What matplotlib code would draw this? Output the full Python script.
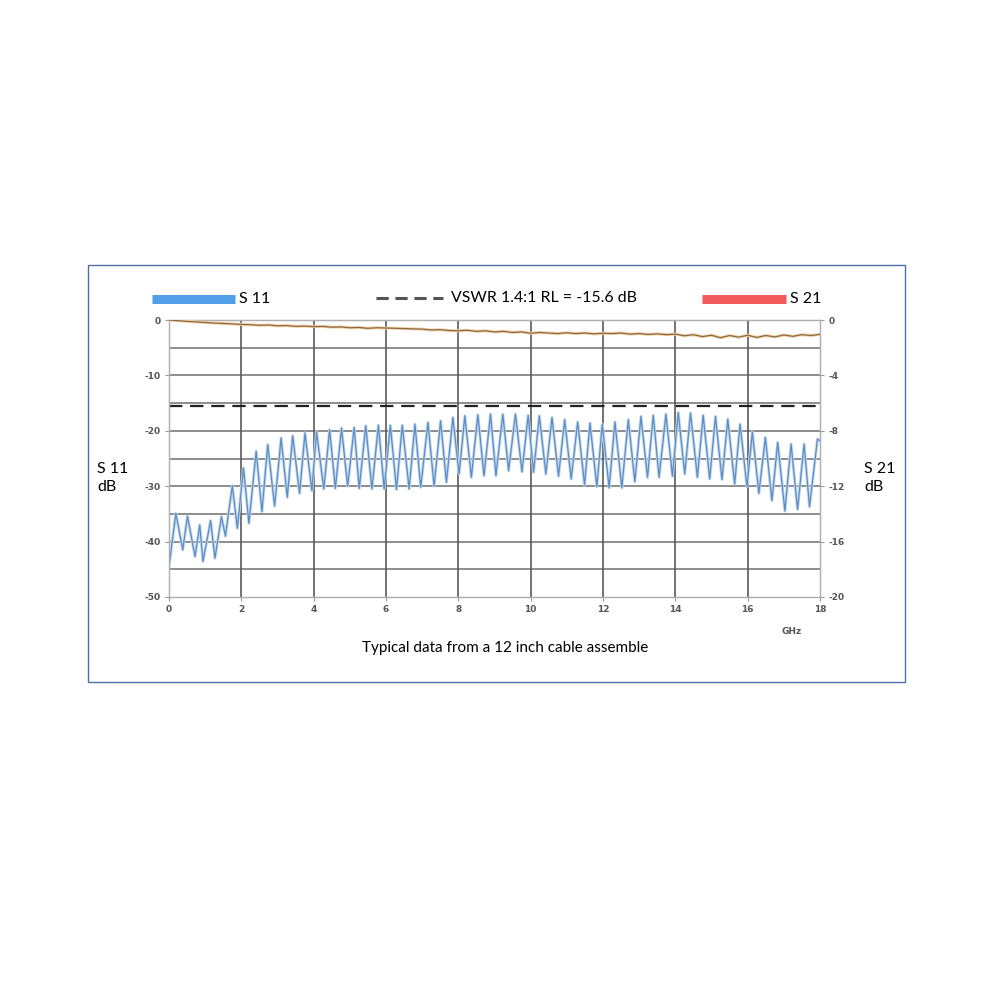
import matplotlib.pyplot as plt
import matplotlib.patches as patches
from matplotlib.lines import Line2D

# S11 trace (peaks and dips), GHz / dB
s11_freq = [0.00, 0.19, 0.38, 0.51, 0.72, 0.85, 0.94, 1.15, 1.27, 1.45, 1.56, 1.75, 1.89,
            2.06, 2.21, 2.41, 2.57, 2.73, 2.92, 3.10, 3.27, 3.42, 3.61, 3.76, 3.95, 4.08,
            4.28, 4.44, 4.60, 4.77, 4.94, 5.12, 5.26, 5.44, 5.61, 5.79, 5.95, 6.12, 6.29,
            6.45, 6.64, 6.80, 6.96, 7.16, 7.33, 7.51, 7.67, 7.85, 8.02, 8.18, 8.36, 8.54,
            8.71, 8.89, 9.04, 9.23, 9.39, 9.58, 9.76, 9.93, 10.08, 10.24, 10.42, 10.59,
            10.77, 10.94, 11.12, 11.30, 11.49, 11.64, 11.83, 11.98, 12.17, 12.33, 12.52,
            12.70, 12.88, 13.05, 13.23, 13.39, 13.55, 13.74, 13.92, 14.08, 14.26, 14.42,
            14.61, 14.77, 14.95, 15.11, 15.29, 15.45, 15.64, 15.79, 15.98, 16.13, 16.31,
            16.49, 16.67, 16.83, 17.03, 17.20, 17.38, 17.56, 17.71, 17.93, 18.00]
s11_db = [-44.5, -34.9, -41.5, -35.4, -42.7, -37.0, -43.6, -36.2, -43.0, -35.5, -39.0, -29.9, -37.6,
          -26.7, -36.7, -23.7, -34.6, -22.5, -33.6, -21.3, -32.0, -20.9, -31.3, -20.4, -30.8, -20.2,
          -30.5, -19.8, -30.4, -19.5, -30.0, -19.4, -30.4, -19.1, -30.5, -19.0, -30.5, -19.0, -30.6,
          -19.0, -30.5, -18.8, -30.2, -18.5, -30.0, -18.2, -29.3, -17.6, -27.8, -17.3, -28.4, -17.1,
          -28.1, -17.0, -28.1, -17.0, -27.2, -17.0, -27.4, -17.2, -27.5, -17.3, -27.8, -17.6,
          -28.2, -18.0, -28.7, -18.4, -29.8, -18.6, -30.1, -18.8, -30.3, -18.4, -30.3,
          -18.0, -29.2, -17.4, -28.4, -17.2, -28.4, -17.0, -28.2, -16.7, -27.8, -16.8,
          -28.4, -17.2, -28.7, -17.4, -28.8, -17.9, -29.6, -18.8, -30.1, -20.2, -31.3,
          -21.2, -32.6, -22.1, -34.5, -22.4, -34.2, -22.4, -33.7, -21.5, -21.8]

# S21 trace (right axis), GHz / dB
s21_freq = [0.0, 0.25, 0.5, 0.75, 1.0, 1.25, 1.5, 1.75, 2.0, 2.25, 2.5, 2.75, 3.0, 3.25, 3.5, 3.75,
            4.0, 4.25, 4.5, 4.75, 5.0, 5.25, 5.5, 5.75, 6.0, 6.25, 6.5, 6.75, 7.0, 7.25, 7.5, 7.75,
            8.0, 8.25, 8.5, 8.75, 9.0, 9.25, 9.5, 9.75, 10.0, 10.25, 10.5, 10.75, 11.0, 11.25,
            11.5, 11.75, 12.0, 12.25, 12.5, 12.75, 13.0, 13.25, 13.5, 13.75, 14.0, 14.25, 14.5,
            14.75, 15.0, 15.25, 15.5, 15.75, 16.0, 16.25, 16.5, 16.75, 17.0, 17.25, 17.5, 17.75, 18.0]
s21_db = [0.00, -0.05, -0.10, -0.14, -0.18, -0.22, -0.25, -0.28, -0.32, -0.34, -0.38, -0.36, -0.42,
          -0.40, -0.46, -0.44, -0.48, -0.46, -0.52, -0.50, -0.56, -0.54, -0.60, -0.56, -0.58, -0.60,
          -0.62, -0.64, -0.66, -0.72, -0.70, -0.76, -0.78, -0.74, -0.82, -0.78, -0.86, -0.82, -0.90,
          -0.86, -0.96, -0.90, -0.94, -0.98, -0.92, -0.98, -0.94, -1.00, -0.96, -0.98, -0.94, -1.02,
          -0.98, -1.04, -1.00, -1.06, -1.02, -1.14, -1.06, -1.20, -1.10, -1.28, -1.12, -1.24, -1.10,
          -1.26, -1.12, -1.22, -1.08, -1.18, -1.06, -1.12, -1.04]

vswr_rl = -15.6
x_ticks = [0, 2, 4, 6, 8, 10, 12, 14, 16, 18]
left_ticks = [0, -10, -20, -30, -40, -50]
right_ticks = [0, -4, -8, -12, -16, -20]

fig = plt.figure(figsize=(10, 10), dpi=100)
txt_font = 'Lato'
tick_kw = dict(fontsize=6.5, fontweight='bold', color='#555555')

# outer frame
fig.add_artist(patches.Rectangle((0.088, 0.318), 0.817, 0.417, transform=fig.transFigure,
                                 fill=False, edgecolor='#4f6fa8', linewidth=1))

ax = fig.add_axes([0.169, 0.403, 0.651, 0.277])
ax.set_xlim(0, 18)
ax.set_ylim(-50, 0)
for y in range(-45, 0, 5):
    ax.axhline(y, color='#7a7a7a', linewidth=1.2, zorder=1)
for x in x_ticks[1:-1]:
    ax.axvline(x, color='#5a5a5a', linewidth=1.2, zorder=1)
ax.axhline(vswr_rl, color='#222222', linewidth=1.6, dashes=(6, 3.5), zorder=2)

# S11: light halo with a thin core
ax.plot(s11_freq, s11_db, color='#c4d8ee', linewidth=2.2, zorder=3, solid_joinstyle='round')
ax.plot(s11_freq, s11_db, color='#5b8ec4', linewidth=0.9, zorder=4, solid_joinstyle='round')

ax.set_xticks(x_ticks)
ax.set_yticks(left_ticks)
ax.set_xticklabels([str(v) for v in x_ticks], **tick_kw)
ax.set_yticklabels([str(v) for v in left_ticks], **tick_kw)
ax.tick_params(length=3, width=0.8, color='#999999', pad=3)
for s in ax.spines.values():
    s.set_color('#b0b0b0')
    s.set_linewidth(0.9)

ax2 = ax.twinx()
ax2.set_ylim(-20, 0)
ax2.plot(s21_freq, s21_db, color='#f5d2a6', linewidth=2.2, zorder=3)
ax2.plot(s21_freq, s21_db, color='#8a6a45', linewidth=0.9, zorder=4)
ax2.set_yticks(right_ticks)
ax2.set_yticklabels([str(v) for v in right_ticks], **tick_kw)
ax2.tick_params(length=3, width=0.8, color='#999999', pad=3)
for s in ax2.spines.values():
    s.set_color('#b0b0b0')
    s.set_linewidth(0.9)

# legend row
fig.add_artist(Line2D([0.152, 0.235], [0.701, 0.701], color='#529fe8', linewidth=6.5,
                      solid_capstyle='butt', transform=fig.transFigure))
fig.text(0.239, 0.701, 'S 11', fontsize=11.5, family=txt_font, va='center', ha='left')
fig.add_artist(Line2D([0.376, 0.443], [0.702, 0.702], color='#555555', linewidth=2.2,
                      dashes=(4, 2.2), transform=fig.transFigure))
fig.text(0.451, 0.702, 'VSWR 1.4:1 RL = -15.6 dB', fontsize=11.4, family=txt_font,
         va='center', ha='left')
fig.add_artist(Line2D([0.702, 0.786], [0.701, 0.701], color='#f05a5a', linewidth=6.5,
                      solid_capstyle='butt', transform=fig.transFigure))
fig.text(0.790, 0.701, 'S 21', fontsize=11.5, family=txt_font, va='center', ha='left')

# side labels
fig.text(0.097, 0.522, 'S 11\ndB', fontsize=11.5, family=txt_font, va='center', ha='left',
         linespacing=1.3)
fig.text(0.864, 0.522, 'S 21\ndB', fontsize=11.5, family=txt_font, va='center', ha='left',
         linespacing=1.3)

fig.text(0.792, 0.368, 'GHz', fontsize=6.5, fontweight='bold', color='#555555',
         ha='center', va='center')
fig.text(0.505, 0.352, 'Typical data from a 12 inch cable assemble', fontsize=11,
         family=txt_font, ha='center', va='center')

fig.savefig('out.png', dpi=100, facecolor='white')
